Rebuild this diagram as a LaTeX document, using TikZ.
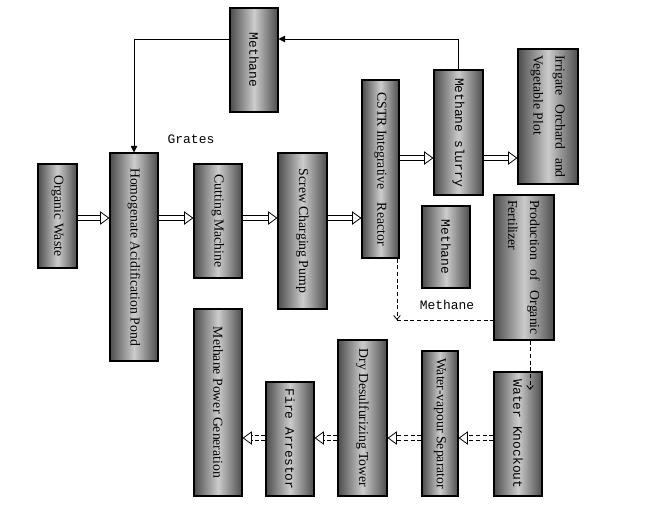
\documentclass[tikz,border=0pt]{standalone}
\usepackage{fontspec}
\setmainfont{Liberation Serif}
\setmonofont{Liberation Mono}
\usepackage{graphicx}
\usepackage{tikz}
\usetikzlibrary{arrows.meta,calc}

\newcommand{\tankserif}{\rmfamily\fontsize{10.3}{16.5}\selectfont}
\newcommand{\tankmono}{\ttfamily\fontsize{9.7}{12}\selectfont}
\newcommand{\vtext}[1]{\rotatebox{-90}{#1}}

\begin{document}
\begin{tikzpicture}[x=0.75pt, y=-0.75pt,
    tank/.style={draw, line width=0.8pt, inner sep=0pt,
        left color=black!70, right color=black!70, middle color=black!20},
    hollow/.style={double, double distance=3pt, line width=0.6pt,
        -{Triangle[open, length=7pt, width=10pt]}},
    hollowdash/.style={hollow, dash pattern=on 3pt off 2pt},
    feed/.style={line width=0.6pt, -{Triangle[length=5pt, width=5pt]}},
    gasline/.style={line width=0.6pt, dash pattern=on 3pt off 2pt},
    gasflow/.style={gasline, -{Straight Barb[length=3pt, width=5pt]}}]
        \useasboundingbox (0,0) rectangle (647,508);

        % Rows used by the connectors
        \coordinate (rowT) at (0,39);
        \coordinate (rowA) at (0,218);
        \coordinate (rowB) at (0,158);
        \coordinate (rowC) at (0,438);

        % Methane store on top
        \node[tank, minimum width=36pt, minimum height=78pt] (meth) at (254,60) {\vtext{\tankmono Methane}};
        \node at (191,139) {\tankmono Grates};

        % Feed line
        \node[tank, minimum width=29.25pt, minimum height=78pt] (org) at (57.5,216) {\vtext{\tankserif Organic Waste}};
        \node[tank, minimum width=36pt, minimum height=156pt] (homog) at (134,257) {\vtext{\tankserif Homogenate Acidification Pond}};
        \node[tank, minimum width=36pt, minimum height=85.5pt] (cut) at (218,221) {\vtext{\tankserif Cutting Machine}};
        \node[tank, minimum width=36.75pt, minimum height=117pt] (screw) at (302.5,231) {\vtext{\tankserif Screw Charging Pump}};
        \node[tank, minimum width=27.75pt, minimum height=133.5pt] (cstr) at (380.5,169) {\vtext{\tankserif CSTR Integrative\hspace{10pt}Reactor}};

        % Slurry use
        \node[tank, minimum width=36.75pt, minimum height=93.75pt] (slurry) at (458.5,132.5) {\vtext{\tankmono Methane slurry}};
        \node[tank, minimum width=45pt, minimum height=101.25pt] (irr) at (548,116.5)
            {\vtext{\parbox{92pt}{\tankserif Irrigate\hfill Orchard\hfill and\\Vegetable Plot}}};
        \node[tank, minimum width=36pt, minimum height=61.5pt] (gas) at (446,247) {\vtext{\tankmono Methane}};
        \node[tank, minimum width=45pt, minimum height=108.75pt] (prod) at (524,267.5)
            {\vtext{\parbox{101pt}{\tankserif Production\hfill of\hfill Organic\\Fertilizer}}};

        % Methane cleaning line
        \node[tank, minimum width=36pt, minimum height=93pt] (wk) at (518,434) {\vtext{\tankmono Water Knockout}};
        \node[tank, minimum width=27pt, minimum height=108.75pt] (wvs) at (440,423.5) {\vtext{\tankserif Water-vapour Separator}};
        \node[tank, minimum width=36.75pt, minimum height=117pt] (ddt) at (362.5,418) {\vtext{\tankserif Dry Desulfurizing Tower}};
        \node[tank, minimum width=36pt, minimum height=85.5pt] (fa) at (290,439) {\vtext{\tankmono Fire Arrestor}};
        \node[tank, minimum width=36pt, minimum height=140.25pt] (mpg) at (218,402.5) {\vtext{\tankserif Methane Power Generation}};

        % Methane loop back to the pond
        \draw[feed] (slurry.north) -- (slurry.north |- rowT) -- (meth.east |- rowT);
        \draw[feed] (meth.west |- rowT) -- (homog.north |- rowT) -- (homog.north);

        % Hollow flow arrows
        \draw[hollow] (org.east |- rowA) -- (homog.west |- rowA);
        \draw[hollow] (homog.east |- rowA) -- (cut.west |- rowA);
        \draw[hollow] (cut.east |- rowA) -- (screw.west |- rowA);
        \draw[hollow] (screw.east |- rowA) -- (cstr.west |- rowA);
        \draw[hollow] (cstr.east |- rowB) -- (slurry.west |- rowB);
        \draw[hollow] (slurry.east |- rowB) -- (irr.west |- rowB);

        % Gas path
        \coordinate (turn) at (397,320);
        \coordinate (wkin) at (530,390);
        \draw[gasflow] (cstr.south -| turn) -- (turn);
        \draw[gasline] (turn) -- (prod.west |- turn);
        \node at (447,305) {\tankmono Methane};
        \draw[gasflow] (prod.south -| wkin) -- (wkin);

        \draw[hollowdash] (wk.west |- rowC) -- (wvs.east |- rowC);
        \draw[hollowdash] (wvs.west |- rowC) -- (ddt.east |- rowC);
        \draw[hollowdash] (ddt.west |- rowC) -- (fa.east |- rowC);
        \draw[hollowdash] (fa.west |- rowC) -- (mpg.east |- rowC);
\end{tikzpicture}
\end{document}
